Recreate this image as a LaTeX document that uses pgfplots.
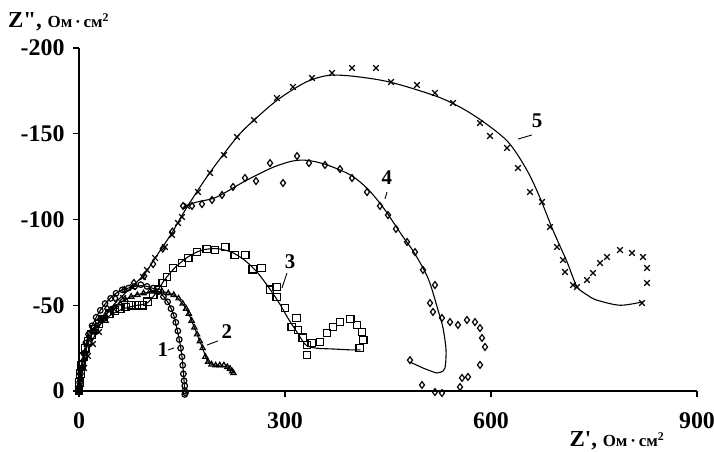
\documentclass[border=0pt]{standalone}
\usepackage{fontspec}
\setmainfont{Liberation Serif}
\usepackage{pgfplots}
\pgfplotsset{compat=1.18}
\begin{document}
\begin{tikzpicture}
\begin{axis}[
  scale only axis, width=618bp, height=343bp,
  xmin=0, xmax=900, ymin=0, ymax=200,
  y filter/.expression={-y},
  axis lines=left, axis line style={-, line width=1.7pt},
  xtick={0,300,600,900}, ytick={0,50,100,150,200},
  yticklabels={0,-50,-100,-150,-200},
  tick align=outside, major tick length=6bp,
  tick style={line width=1.3pt, black},
  ticklabel style={font=\fontsize{24}{24}\selectfont\bfseries},
  yticklabel style={xshift=-5bp},
  xticklabel style={yshift=-12bp},
  /pgf/number format/assume math mode=true,
  clip=false,
  every axis plot/.append style={black},
]
% curve 1 (circles)
\addplot[only marks, mark=o, mark size=2.8pt, mark options={line width=1.2pt}] coordinates {
(0,0)(1,-5)(2,-10)(4,-16)(7,-22)(10,-28)(14,-33)(19,-38)(25,-43)(31,-47)(38,-51)(46,-54)(54,-57)(63,-59)(72,-60)(81,-61)(90,-62)(99,-61)(108,-60)(116,-58)(123,-55)(129,-52)(134,-48)(138,-44)(141,-40)(144,-35)(146,-30)(148,-25)(150,-20)(151,-15)(152,-10)(153,-6)(154,-3)(154,0)(155,1)(154,2)};
\addplot[line width=1.1pt, smooth] coordinates {
(0,0)(4,-16)(14,-33)(31,-47)(54,-57)(81,-61)(99,-61)(116,-58)(129,-52)(138,-44)(146,-30)(150,-20)(153,-6)(154,0)};
% curve 2 (triangles)
\addplot[only marks, mark=triangle, mark size=3pt, mark options={line width=1.2pt}] coordinates {
(0,0)(1,-4)(2,-8)(4,-13)(6,-18)(9,-23)(12,-27)(16,-31)(21,-35)(26,-38)(32,-41)(38,-44)(45,-47)(52,-49)(60,-51)(68,-53)(76,-55)(85,-56)(94,-57)(103,-58)(112,-58)(121,-58)(130,-57)(138,-56)(145,-54)(151,-51)(156,-48)(160,-45)(164,-41)(168,-37)(172,-33)(176,-29)(180,-25)(184,-20)(188,-17)(193,-15.5)(199,-15)(205,-15)(211,-15)(216,-14)(220,-13)(223,-11.5)(225,-10.5)};
\addplot[line width=1.1pt, smooth] coordinates {
(0,0)(6,-18)(21,-35)(45,-47)(76,-55)(112,-58)(138,-56)(156,-48)(168,-37)(180,-25)(188,-17)(199,-15)(216,-14)(225,-10.5)};
% curve 3 (squares)
\addplot[only marks, mark=square, mark size=3.8pt, mark options={line width=1.2pt}] coordinates {
(0,0)(1,-5)(2,-10)(4,-15)(6,-20)(9,-25)(13,-29)(18,-33)(23,-36)(29,-39)(36,-42)(44,-45)(52,-47)(60,-48)(68,-49)(76,-50)(84,-50)(92,-50)(100,-52)(108,-56)(115,-59)(122,-63)(128,-66.5)(137,-71.7)(150,-74.6)(159,-77.6)(172,-81)(186,-82.8)(198,-82.2)(213,-84)(227,-79.3)(242,-79.3)(253,-71)(266,-71.7)(278,-59)(288,-60.6)(288,-54.8)(300,-48.4)(317,-42.6)(310,-37.3)(319,-35.6)(326,-31)(332,-26.8)(332,-21)(339,-28)(351,-28.6)(361,-33.8)(370,-37.3)(380,-40.2)(395,-42)(405,-38.5)(412,-34.4)(414,-29.7)(409,-25.1)};
\addplot[line width=1.1pt, smooth] coordinates {
(0,0)(3,-12)(8,-22)(16,-31)(28,-38)(45,-44)(65,-48)(85,-50)(98,-51)(110,-56)(125,-65)(140,-72)(158,-78)(178,-82)(200,-83)(222,-81)(242,-76)(260,-69)(277,-60)(292,-51)(305,-42)(318,-34)(330,-27)(345,-25)(370,-24.5)(395,-24)(410,-24)};
% curve 4 (diamonds)
\addplot[only marks, mark=diamond, mark size=3.4pt, mark options={line width=1.2pt}] coordinates {
(0,0)(2,-7)(5,-14)(9,-21)(15,-28)(22,-35)(31,-42)(41,-48)(53,-54)(66,-59)(80,-63)(95,-67)(108,-74)(122,-83)(136,-93)
(151.5,-107.9)(164.6,-107.9)(179.1,-109)(193.7,-111.4)(208.3,-114.3)(224.3,-119)(241.7,-124.2)(257.8,-122.4)(278.2,-132.9)(297.1,-121.3)(317.5,-137)(334.9,-132.9)(358.2,-131.8)(380.1,-129.4)(397.6,-124.2)(419.4,-116)(438.3,-107.9)(450,-102.6)(461.6,-94.5)(477.7,-86.9)(489.3,-81)(501,-70.6)(518.4,-61.8)(511.2,-51.3)(515.5,-46.1)(528.6,-42.6)(540.3,-40.2)(551.9,-38.5)(565,-41.4)(576.7,-40.2)(584,-36.7)(586.9,-30.9)(591.3,-25.7)(584,-15.2)(566.5,-8.2)(557.8,-7.6)(554.9,-2.3)(528.6,1.2)(518.4,0.6)(499.5,-3.5)(482,-18)};
\addplot[line width=1.1pt, smooth] coordinates {
(151,-107)(170,-110)(200,-113)(240,-122)(280,-130)(310,-134)(332,-134.5)(360,-132)(395,-126)(420,-118)(443,-107)(470,-91)(486,-82)(501,-71.7)(511,-63)(523,-47)(530,-37)(534.5,-24)(533,-13.4)(527,-11)(521,-10.5)(510,-12)(501,-13.4)(482,-16.9)};
% curve 5 (crosses)
\addplot[only marks, mark=x, mark size=4pt, mark options={line width=1.2pt}] coordinates {
(0,0)(2.9,-6.4)(7.3,-13.4)(13.1,-20.4)(20.4,-27.4)(29.1,-34.4)(39.3,-41.4)(51,-47.8)(64.1,-54.2)(78.6,-60.6)(93.2,-66.5)(99,-70.6)(110.7,-77.6)(125.2,-84)(135.4,-91)(144.2,-98)(150,-101.5)(157.3,-107.9)(173.3,-116)(190.8,-127.1)(211.2,-137.6)(230.1,-148.1)(254.9,-158)(288.3,-170.8)(311.6,-177.3)(339.3,-182.5)(368.4,-185.4)(397.6,-188.3)(432.5,-188.3)(454.4,-180.2)(492.2,-178.4)(518.4,-173.8)(544.7,-167.9)(584,-156.3)(598.5,-148.7)(623.3,-141.7)(639.3,-130)(656.8,-116)(674.3,-110.2)(685.9,-95.6)(696.1,-84)(704.8,-76.4)(707.8,-69.4)(719.4,-61.8)(725.2,-60.6)(739.8,-64.7)(748.5,-68.8)(758.7,-74.6)(768.9,-78.1)(787.9,-82.2)(805.3,-80.5)(821.4,-78.1)(827.2,-71.7)(827.2,-63)(819.9,-51.3)};
\addplot[line width=1.1pt, smooth] coordinates {
(0,0)(5,-12)(15,-25)(30,-38)(50,-50)(75,-60)(95,-68)(115,-80)(135,-92)(157,-107)(190,-127)(230,-148)(255,-158)(290,-170)(330,-180)(363,-184)(400,-183.5)(454,-180)(526,-171)(574,-161)(623,-146)(652,-129)(671,-113)(690,-94)(711,-75)(725,-61)(740,-56)(754,-53)(788,-50)(821,-52)};
% labels
\node[font=\fontsize{21}{21}\selectfont\bfseries] at (axis cs:122,24) {1};
\draw[line width=0.9pt] (axis cs:129.6,23.9) -- (axis cs:138.3,25.1);
\node[font=\fontsize{21}{21}\selectfont\bfseries] at (axis cs:215.5,34.4) {2};
\draw[line width=0.9pt] (axis cs:186.4,26.8) -- (axis cs:202.4,29.2);
\node[font=\fontsize{21}{21}\selectfont\bfseries] at (axis cs:307.3,75.2) {3};
\draw[line width=0.9pt] (axis cs:302.9,68.8) -- (axis cs:295.6,60.1);
\node[font=\fontsize{21}{21}\selectfont\bfseries] at (axis cs:448.5,124.2) {4};
\draw[line width=0.9pt] (axis cs:448.5,116) -- (axis cs:445.6,112);
\node[font=\fontsize{21}{21}\selectfont\bfseries] at (axis cs:667,157.4) {5};
\draw[line width=0.9pt] (axis cs:639.3,146.9) -- (axis cs:659.7,149.3);
\coordinate (O) at (axis cs:0,0);
\end{axis}
\node[anchor=west, inner sep=0pt] at ([shift={(-71bp,369bp)}]O) {\bfseries\fontsize{23}{23}\selectfont Z\textquotedbl, {\fontsize{17}{17}\selectfont Ом\,·\,см\textsuperscript{2}}};
\node[inner sep=0pt] at ([shift={(538bp,-50bp)}]O) {\bfseries\fontsize{23}{23}\selectfont Z\textquotesingle, {\fontsize{17}{17}\selectfont Ом\,·\,см\textsuperscript{2}}};
\pgfresetboundingbox
\path ([shift={(-79bp,-61bp)}]O) rectangle ([shift={(635bp,391bp)}]O);
\end{tikzpicture}
\end{document}
